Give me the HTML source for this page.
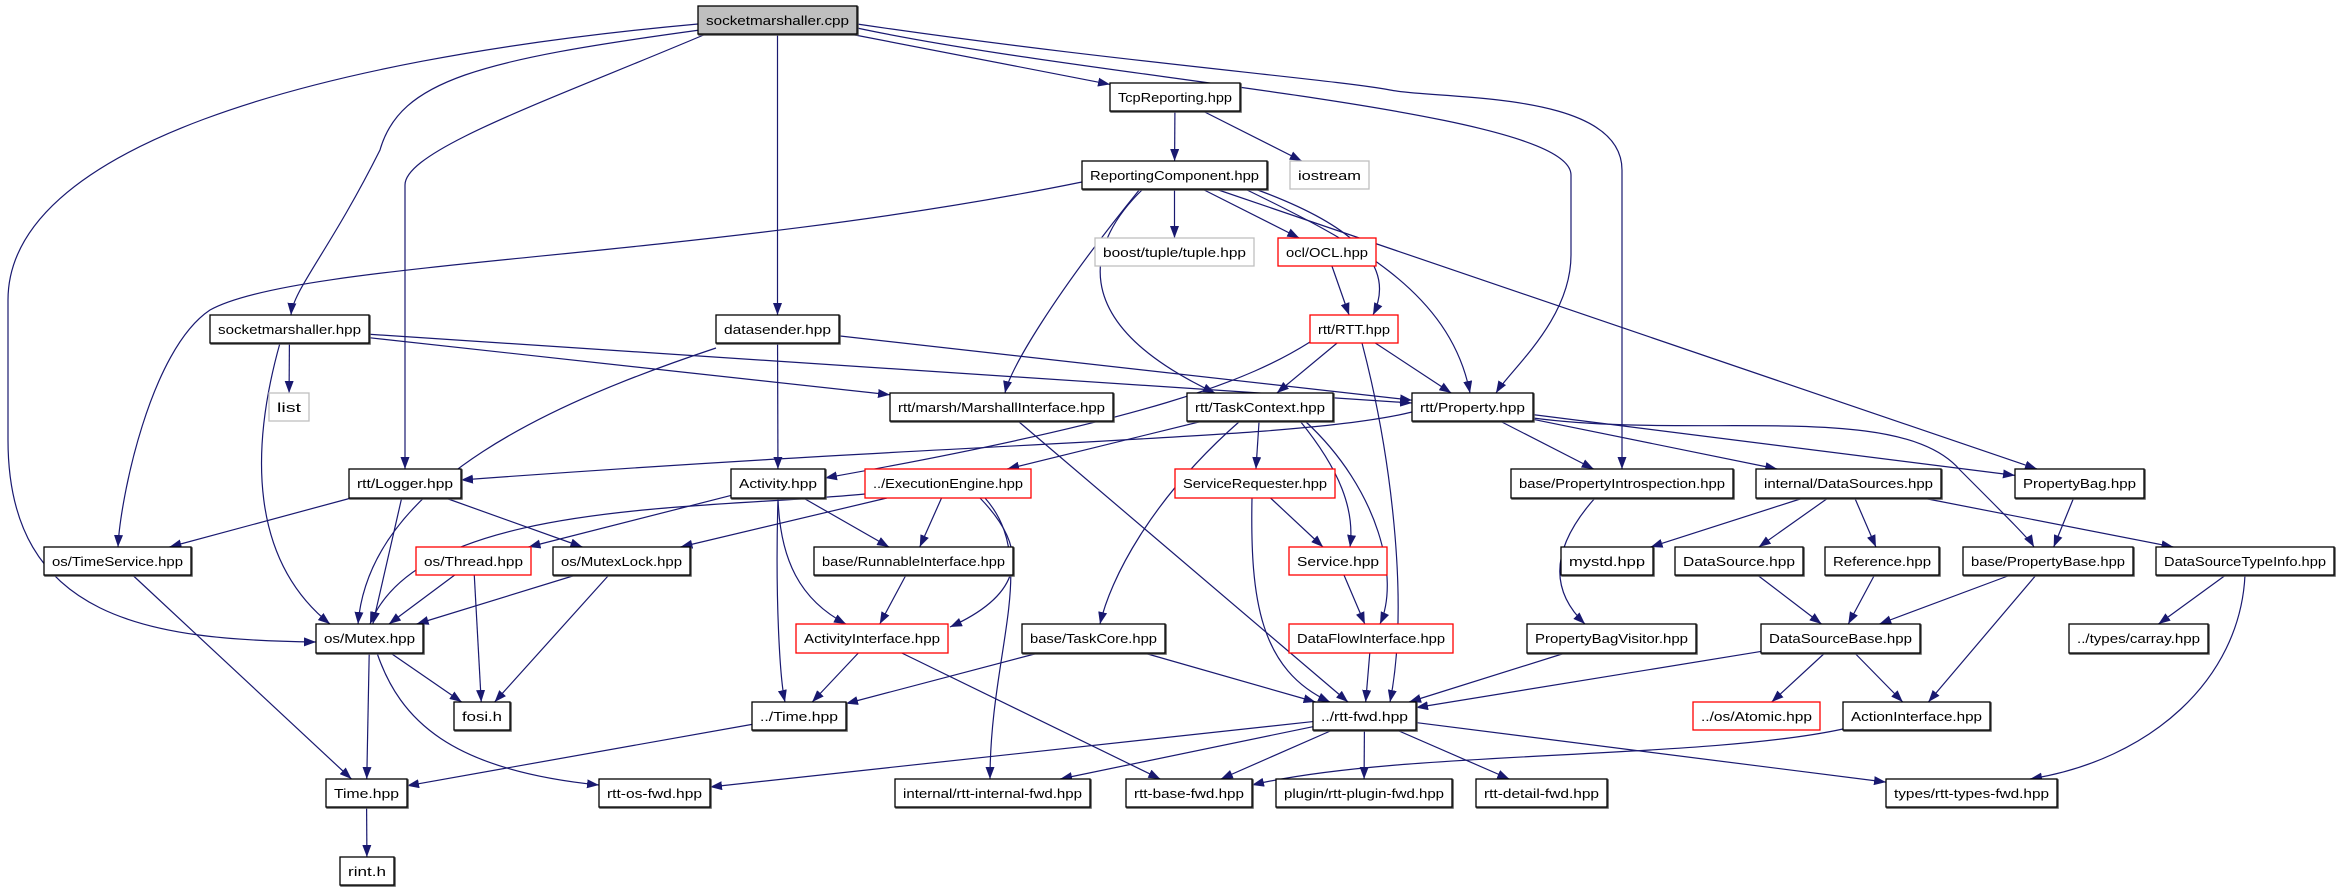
<!DOCTYPE html>
<html><head><meta charset="utf-8"><style>
html,body{margin:0;padding:0;background:#fff;}
svg{display:block;}
text{font-family:"Liberation Sans",sans-serif;font-size:13px;fill:#000;}
</style></head><body>
<svg id="g" width="2337" height="891" viewBox="0 0 2337 891" xmlns="http://www.w3.org/2000/svg">
<defs><marker id="a" markerWidth="12" markerHeight="9" refX="12" refY="4.5" orient="auto" markerUnits="userSpaceOnUse"><path d="M0,0 L12,4.5 L0,9 z" fill="#191970"/></marker></defs>
<g id="E" fill="none" stroke="#191970" stroke-width="1.2"></g>
<g id="N"></g>
</svg>
<script>
var R=[[6,34],[83,111],[161,189],[238,266],[315,343],[393,421],[469,498],[547,575],[624,653],[702,730],[779,807],[857,885]];
var nodes={
cpp:["socketmarshaller.cpp",698,857,0,"g"],
tcp:["TcpReporting.hpp",1110,1240,1],
rc:["ReportingComponent.hpp",1082,1267,2],
ios:["iostream",1290,1369,2,"l"],
tup:["boost/tuple/tuple.hpp",1095,1254,3,"l"],
ocl:["ocl/OCL.hpp",1278,1376,3,"r"],
rtt:["rtt/RTT.hpp",1310,1398,4,"r"],
smh:["socketmarshaller.hpp",210,369,4],
ds:["datasender.hpp",716,839,4],
list:["list",269,309,5,"l"],
mi:["rtt/marsh/MarshallInterface.hpp",890,1113,5],
tc:["rtt/TaskContext.hpp",1187,1333,5],
prop:["rtt/Property.hpp",1412,1533,5],
log:["rtt/Logger.hpp",349,461,6],
act:["Activity.hpp",731,825,6],
ee:["../ExecutionEngine.hpp",865,1031,6,"r"],
sr:["ServiceRequester.hpp",1175,1335,6,"r"],
pi:["base/PropertyIntrospection.hpp",1511,1733,6],
dss:["internal/DataSources.hpp",1756,1941,6],
pb:["PropertyBag.hpp",2015,2144,6],
ts:["os/TimeService.hpp",44,191,7],
th:["os/Thread.hpp",416,531,7,"r"],
ml:["os/MutexLock.hpp",553,690,7],
ri:["base/RunnableInterface.hpp",814,1013,7],
svc:["Service.hpp",1289,1387,7,"r"],
my:["mystd.hpp",1561,1653,7],
dsrc:["DataSource.hpp",1675,1803,7],
ref:["Reference.hpp",1825,1939,7],
pbase:["base/PropertyBase.hpp",1963,2133,7],
dsti:["DataSourceTypeInfo.hpp",2156,2334,7],
mx:["os/Mutex.hpp",316,423,8],
ai:["ActivityInterface.hpp",796,948,8,"r"],
tcore:["base/TaskCore.hpp",1022,1165,8],
dfi:["DataFlowInterface.hpp",1289,1453,8,"r"],
pbv:["PropertyBagVisitor.hpp",1527,1696,8],
dsb:["DataSourceBase.hpp",1761,1920,8],
car:["../types/carray.hpp",2069,2208,8],
fosi:["fosi.h",454,510,9],
time2:["../Time.hpp",752,846,9],
fwd:["../rtt-fwd.hpp",1313,1416,9],
atom:["../os/Atomic.hpp",1693,1820,9,"r"],
acti:["ActionInterface.hpp",1843,1990,9],
time:["Time.hpp",326,407,10],
osf:["rtt-os-fwd.hpp",599,710,10],
inf:["internal/rtt-internal-fwd.hpp",895,1090,10],
bf:["rtt-base-fwd.hpp",1126,1252,10],
plf:["plugin/rtt-plugin-fwd.hpp",1276,1452,10],
df:["rtt-detail-fwd.hpp",1476,1607,10],
tf:["types/rtt-types-fwd.hpp",1886,2057,10],
rint:["rint.h",340,394,11]
};
var S=[["cpp","tcp"],["cpp","ds"],["tcp","rc"],["tcp","ios"],["rc","tup"],["rc","ocl"],["ocl","rtt"],["rtt","tc"],["rtt","prop"],
["smh","list"],["smh","mi"],["smh","prop"],["ds","act"],["ds","prop"],["tc","ee"],["tc","sr"],["prop","pi"],["prop","dss"],["prop","pb"],
["log","ts"],["log","mx"],["log","ml"],["act","th"],["act","ri"],["ee","ml"],["ee","ri"],["sr","svc"],["dss","my"],["dss","dsrc"],["dss","ref"],["dss","dsti"],
["pb","pbase"],["ts","time"],["th","mx"],["th","fosi"],["ml","mx"],["ml","fosi"],["ri","ai"],["svc","dfi"],["dsrc","dsb"],["ref","dsb"],["pbase","dsb"],["pbase","acti"],
["dsti","car"],["mx","fosi"],["mx","time"],["ai","time2"],["ai","bf"],["tcore","time2"],["tcore","fwd"],["dfi","fwd"],["pbv","fwd"],["dsb","fwd"],["dsb","atom"],["dsb","acti"],
["time2","time"],["fwd","osf"],["fwd","inf"],["fwd","bf"],["fwd","plf"],["fwd","df"],["fwd","tf"],["time","rint"],["mi","fwd"],["rc","pb"]];
var P=["M698,24 C300,60 8,150 8,300 L8,440 C8,620 150,640 316,642",
"M700,30 C480,60 400,80 380,150 C330,250 293,290 291,315",
"M706,34 C550,100 405,150 405,185 L405,469",
"M857,28 C1100,80 1571,110 1571,175 L1571,255 C1571,320 1510,370 1496,393",
"M857,24 C1100,60 1340,80 1390,90 C1440,100 1622,90 1622,170 L1622,469",
"M1082,182 C700,260 300,260 210,310 C150,350 120,500 118,547",
"M1255,189 C1340,220 1400,260 1373,315",
"M1245,189 C1350,240 1450,290 1470,393",
"M1143,189 C1090,240 1060,320 1215,393",
"M1140,189 C1050,300 1010,370 1005,393",
"M1310,342 C1250,380 1150,420 825,478",
"M1362,343 C1390,450 1410,600 1390,702",
"M1412,412 C1300,440 1000,440 461,480",
"M280,343 C250,450 250,560 330,624",
"M716,348 C560,400 370,480 358,624",
"M865,494 C700,510 420,500 370,624",
"M985,498 C1040,560 990,650 990,779",
"M980,498 C1040,560 1010,600 950,627",
"M1240,421 C1150,500 1110,580 1100,624",
"M1300,421 C1340,470 1355,510 1350,547",
"M1305,421 C1380,490 1400,580 1380,624",
"M1252,498 C1250,600 1260,670 1330,702",
"M778,498 C780,560 800,600 846,624",
"M778,498 C775,600 780,680 785,702",
"M1595,498 C1540,560 1560,600 1585,624",
"M1533,418 C1700,440 1900,400 1960,470 C2010,520 2030,540 2034,547",
"M2245,575 C2240,680 2150,760 2030,779",
"M1843,729 C1700,760 1400,750 1252,785",
"M377,653 C400,720 450,770 599,785"];
var ns="http://www.w3.org/2000/svg",E=document.getElementById("E"),NG=document.getElementById("N");
function el(t,a,p){var e=document.createElementNS(ns,t);for(var k in a)e.setAttribute(k,a[k]);p.appendChild(e);return e;}
function b(id){var n=nodes[id];var r=R[n[3]];return {x:(n[1]+n[2])/2,y:(r[0]+r[1])/2,w:(n[2]-n[1])/2,h:(r[1]-r[0])/2};}
function clip(c,t){var dx=t.x-c.x,dy=t.y-c.y;var s=Math.min(dx?c.w/Math.abs(dx):1e9,dy?c.h/Math.abs(dy):1e9);return {x:c.x+dx*s,y:c.y+dy*s};}
S.forEach(function(e){var A=b(e[0]),B=b(e[1]);var p=clip(A,B),q=clip(B,A);el("path",{d:"M"+p.x+","+p.y+" L"+q.x+","+q.y,"marker-end":"url(#a)"},E);});
P.forEach(function(d){el("path",{d:d,"marker-end":"url(#a)"},E);});
for(var id in nodes){var n=nodes[id],r=R[n[3]],st=n[4];
var stroke=st=="r"?"#ff0000":st=="l"?"#bfbfbf":"#000";var fill=st=="g"?"#bfbfbf":"#fff";
el("rect",{x:n[1]+1,y:r[0]+1,width:n[2]-n[1],height:r[1]-r[0],fill:"none",stroke:st=="r"||st=="l"?"none":"#555","stroke-width":1.5},NG);
el("rect",{x:n[1],y:r[0],width:n[2]-n[1],height:r[1]-r[0],fill:fill,stroke:stroke,"stroke-width":1.3},NG);
var w=n[2]-n[1]-16;var t=el("text",{x:(n[1]+n[2])/2,y:r[0]+19,"text-anchor":"middle",textLength:w,lengthAdjust:"spacingAndGlyphs"},NG);t.textContent=n[0];}
</script>
</body></html>
